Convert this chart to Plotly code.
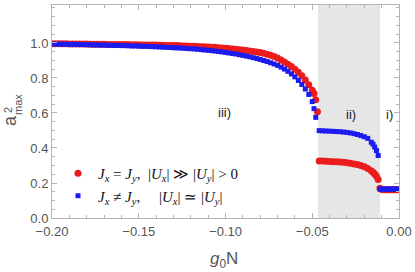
import numpy as np
import plotly.graph_objects as go

# ---------------- data ----------------
# region iii (uniform grid part)
g_iii = [round(v, 3) for v in np.arange(-0.200, -0.0499, 0.002)] + [-0.049, -0.048]
red_iii = [0.995, 0.995, 0.995, 0.995, 0.995, 0.994, 0.994, 0.994, 0.994, 0.994,
           0.994, 0.993, 0.993, 0.993, 0.993, 0.993, 0.992, 0.992, 0.992, 0.992,
           0.991, 0.991, 0.991, 0.990, 0.990, 0.990, 0.989, 0.989, 0.989, 0.988,
           0.988, 0.987, 0.987, 0.986, 0.986, 0.985, 0.985, 0.984, 0.983, 0.983,
           0.982, 0.981, 0.980, 0.979, 0.978, 0.977, 0.976, 0.975, 0.973, 0.972,
           0.970, 0.968, 0.966, 0.964, 0.962, 0.960, 0.957, 0.954, 0.951, 0.948,
           0.946, 0.941, 0.936, 0.930, 0.923, 0.914, 0.903, 0.891, 0.879, 0.865,
           0.850, 0.833, 0.813, 0.789, 0.762, 0.730, 0.712, 0.675]
blue_iii = [0.994, 0.994, 0.993, 0.993, 0.993, 0.992, 0.992, 0.992, 0.991, 0.991,
            0.990, 0.990, 0.989, 0.989, 0.988, 0.988, 0.987, 0.987, 0.986, 0.986,
            0.985, 0.985, 0.984, 0.983, 0.983, 0.982, 0.981, 0.981, 0.980, 0.979,
            0.978, 0.977, 0.976, 0.975, 0.974, 0.973, 0.972, 0.971, 0.970, 0.968,
            0.967, 0.966, 0.964, 0.962, 0.960, 0.958, 0.956, 0.954, 0.951, 0.949,
            0.946, 0.943, 0.940, 0.937, 0.933, 0.929, 0.925, 0.921, 0.916, 0.911,
            0.906, 0.900, 0.894, 0.887, 0.880, 0.872, 0.862, 0.851, 0.838, 0.823,
            0.806, 0.786, 0.763, 0.737, 0.706, 0.665, 0.625, 0.575]
# extra red point at the edge of region iii
g_red_edge = [-0.047]
red_edge = [0.607]

# region ii
g_ii = [-0.046, -0.044, -0.042, -0.040, -0.038, -0.036, -0.034, -0.032, -0.030,
        -0.028, -0.026, -0.024, -0.022, -0.020, -0.018, -0.016, -0.015, -0.014,
        -0.013, -0.012]
red_ii = [0.326, 0.325, 0.324, 0.323, 0.322, 0.321, 0.320, 0.318, 0.316,
          0.313, 0.309, 0.305, 0.300, 0.293, 0.283, 0.270, 0.262, 0.252,
          0.238, 0.220]
blue_ii = [0.499, 0.498, 0.497, 0.496, 0.495, 0.494, 0.493, 0.491, 0.489,
           0.486, 0.482, 0.477, 0.471, 0.464, 0.455, 0.433, 0.422, 0.405,
           0.385, 0.357]

# region i
g_i = [-0.011, -0.010, -0.009, -0.008, -0.007, -0.006, -0.005, -0.004, -0.003,
       -0.002, -0.001, 0.000]
red_i = [0.170, 0.163, 0.162, 0.162, 0.162, 0.162, 0.162, 0.162, 0.162,
         0.162, 0.162, 0.162]
blue_i = [0.165, 0.165, 0.165, 0.165, 0.165, 0.165, 0.165, 0.165, 0.165,
          0.165, 0.165, 0.165]

shade_range = [-0.0467, -0.011]
y_ticks = [0.0, 0.2, 0.4, 0.6, 0.8, 1.0]
y_tick_labels = ["0.0", "0.2", "0.4", "0.6", "0.8", "1.0"]
x_ticks = [-0.20, -0.15, -0.10, -0.05, 0.00]
x_tick_labels = ["\u22120.20", "\u22120.15", "\u22120.10", "\u22120.05", "0.00"]
region_labels = ["iii)", "ii)", "i)"]
region_label_x = [-0.1003, -0.0277, -0.0052]
region_label_y = [0.60, 0.594, 0.594]

RED = "#ec1c1c"
BLUE = "#1c1cf0"

red_x = g_iii + g_red_edge + g_ii + g_i
red_y = red_iii + red_edge + red_ii + red_i
blue_x = g_iii + g_ii + g_i
blue_y = blue_iii + blue_ii + blue_i

fig = go.Figure()
fig.add_trace(go.Scatter(
    x=red_x, y=red_y, mode="markers",
    marker=dict(symbol="circle", size=7, color=RED),
    name="<i>J</i><sub><i>x</i></sub> = <i>J</i><sub><i>y</i></sub>,  |<i>U</i><sub><i>x</i></sub>| \u226b |<i>U</i><sub><i>y</i></sub>| > 0",
))
fig.add_trace(go.Scatter(
    x=blue_x, y=blue_y, mode="markers",
    marker=dict(symbol="square", size=5, color=BLUE),
    name="<i>J</i><sub><i>x</i></sub> \u2260 <i>J</i><sub><i>y</i></sub>,     |<i>U</i><sub><i>x</i></sub>| \u2243 |<i>U</i><sub><i>y</i></sub>|",
))

fig.add_shape(type="rect", xref="x", yref="paper",
              x0=shade_range[0], x1=shade_range[1], y0=0, y1=1,
              fillcolor="#e6e6e6", line=dict(width=0), layer="below")

for t, x, y in zip(region_labels, region_label_x, region_label_y):
    fig.add_annotation(x=x, y=y, xref="x", yref="y", text=t, showarrow=False,
                       xanchor="center", yanchor="middle",
                       font=dict(family="Liberation Sans", size=13, color="#222"))

L, T, W, H = 52, 5, 347, 213
def px(xp):
    return (xp - L) / W
def py(yp):
    return (T + H - yp) / H

# y-axis title: a^2_max (stacked super/subscript)
ann_common = dict(xref="paper", yref="paper", showarrow=False,
                  xanchor="center", yanchor="middle")
fig.add_annotation(x=px(10), y=py(121), text="a", textangle=-90,
                   font=dict(family="Liberation Sans", size=18, color="#555"),
                   **ann_common)
fig.add_annotation(x=px(8), y=py(110), text="2", textangle=-90,
                   font=dict(family="Liberation Sans", size=11, color="#555"),
                   **ann_common)
fig.add_annotation(x=px(18), y=py(105), text="max", textangle=-90,
                   font=dict(family="Liberation Sans", size=11, color="#555"),
                   **ann_common)
# x-axis title
fig.add_annotation(x=px(224), y=py(260), text="<i>g</i><sub>0</sub>N",
                   font=dict(family="Liberation Sans", size=17, color="#555"),
                   **ann_common)

axis_common = dict(
    showgrid=False, zeroline=False, showline=True, linecolor="#b4b4b4",
    linewidth=1, mirror="ticks", ticks="inside", tickcolor="#b4b4b4",
    ticklen=5, tickwidth=1, automargin=False,
    tickfont=dict(family="Liberation Sans", size=13, color="#555"),
)
fig.update_xaxes(range=[-0.2, 0.0], tickmode="array", tickvals=x_ticks,
                 ticktext=x_tick_labels, ticklabelstandoff=1,
                 minor=dict(dtick=0.01, tick0=0, ticklen=3, tickcolor="#b4b4b4",
                            ticks="inside"),
                 **axis_common)
fig.update_yaxes(range=[0, 1.217], tickmode="array", tickvals=y_ticks,
                 ticktext=y_tick_labels,
                 minor=dict(dtick=0.05, tick0=0, ticklen=3, tickcolor="#b4b4b4",
                            ticks="inside"),
                 **axis_common)

fig.update_layout(
    width=415, height=272,
    margin=dict(l=L, r=415 - L - W, t=T, b=272 - T - H, autoexpand=False),
    paper_bgcolor="white", plot_bgcolor="white",
    showlegend=True,
    legend=dict(x=px(58), y=py(157), xanchor="left", yanchor="top",
                bgcolor="rgba(0,0,0,0)", borderwidth=0, itemwidth=30,
                font=dict(family="Liberation Serif", size=15, color="#111"),
                tracegroupgap=0),
)

fig.write_html("out.html", config={"displayModeBar": False},
               post_script="document.body.style.margin='0';document.body.style.overflow='hidden';")
